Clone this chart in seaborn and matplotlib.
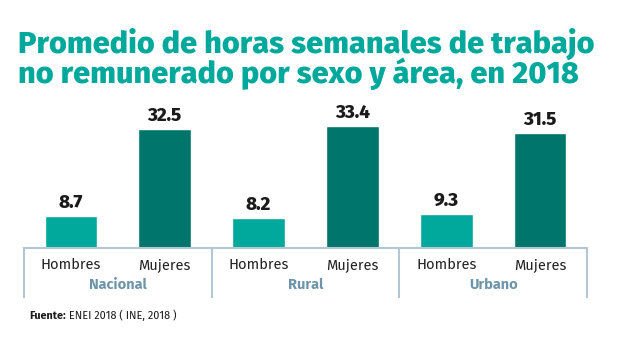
import matplotlib
matplotlib.use("Agg")
import matplotlib.pyplot as plt
import matplotlib.transforms as mtransforms
import pandas as pd
import seaborn as sns

# Promedio de horas semanales de trabajo no remunerado (ENEI 2018)
areas = ["Nacional", "Rural", "Urbano"]
sexos = ["Hombres", "Mujeres"]
horas_hombres = [8.7, 8.2, 9.3]
horas_mujeres = [32.5, 33.4, 31.5]

titulo = ["Promedio de horas semanales de trabajo",
          "no remunerado por sexo y área, en 2018"]
fuente_bold = "Fuente:"
fuente_texto = " ENEI 2018 ( INE, 2018 )"

df = pd.DataFrame({
    "area": areas * 2,
    "sexo": ["Hombres"] * 3 + ["Mujeres"] * 3,
    "horas": horas_hombres + horas_mujeres,
})

TEAL = "#00A99B"
DARK_TEAL = "#00756B"
LINE = "#B4C6D2"
GROUP = "#6D94A8"
INK = "#1b1b1b"

sns.set_theme(style="white")
plt.rcParams["font.family"] = ["Fira Sans", "DejaVu Sans"]

W, H = 636, 338
fig = plt.figure(figsize=(W / 100, H / 100), dpi=100)
ax_h_px = 35 * 3.65
ax = fig.add_axes([24 / W, 90 / H, 563 / W, ax_h_px / H])

sns.barplot(data=df, x="area", y="horas", hue="sexo", order=areas,
            hue_order=sexos, palette=[TEAL, DARK_TEAL], width=1.0,
            gap=0.44, saturation=1, errorbar=None, legend=False, ax=ax)

ax.set_xlim(-0.5, 2.5)
ax.set_ylim(0, 35)
ax.set_xlabel("")
ax.set_ylabel("")
ax.set_xticks([])
ax.set_yticks([])
for side in ["top", "left", "right"]:
    ax.spines[side].set_visible(False)
ax.spines["bottom"].set_color(LINE)
ax.spines["bottom"].set_linewidth(1.5)

for cont in ax.containers:
    ax.bar_label(cont, fmt="%.1f", padding=3, fontsize=13.5,
                 fontweight="heavy", color=INK)

trans = mtransforms.blended_transform_factory(ax.transData, ax.transAxes)
drop = 50 / ax_h_px
for xb in [-0.5, 0.5, 1.5, 2.5]:
    ax.plot([xb, xb], [0, -drop], transform=trans, color=LINE, lw=1.5,
            clip_on=False, solid_capstyle="butt")

y_sex = -21 / ax_h_px
y_area = -41 / ax_h_px
for i, area in enumerate(areas):
    for j, s in enumerate(sexos):
        ax.text(i + (j - 0.5) * 0.5, y_sex, s, transform=trans,
                ha="center", va="baseline", fontsize=10.5, color="#222222")
    ax.text(i, y_area, area, transform=trans, ha="center", va="baseline",
            fontsize=10.5, fontweight="bold", color=GROUP)

# Title, sized so the first line spans the plot width
title_font = ["Fira Sans", "DejaVu Sans"]
t_a = fig.text(18 / W, 1 - 53 / H, titulo[0], ha="left", va="baseline",
               fontsize=22, fontweight="heavy", color=TEAL, family=title_font)
t_b = fig.text(18 / W, 1 - 83 / H, titulo[1], ha="left", va="baseline",
               fontsize=22, fontweight="heavy", color=TEAL, family=title_font)
fig.canvas.draw()
scale = (596 - 18) / t_a.get_window_extent().width
for t in (t_a, t_b):
    t.set_fontsize(22 * scale)

# Source note
t1 = fig.text(29 / W, 19 / H, fuente_bold, ha="left", va="baseline",
              fontsize=7.8, fontweight="bold", color=INK)
fig.canvas.draw()
bb = t1.get_window_extent()
fig.text(bb.x1 / W, 19 / H, fuente_texto, ha="left", va="baseline",
         fontsize=7.8, color=INK)

fig.savefig("out.png", dpi=100)
